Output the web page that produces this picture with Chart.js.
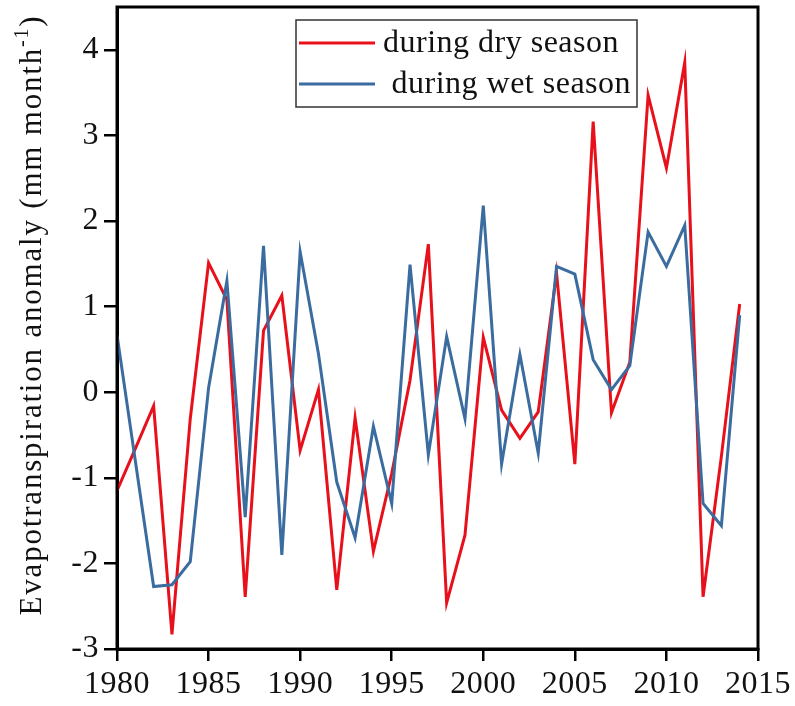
<!DOCTYPE html>
<html>
<head>
<meta charset="utf-8">
<script src="https://cdn.jsdelivr.net/npm/chart.js@4.4.1/dist/chart.umd.min.js"></script>
<style>
  html, body { margin: 0; padding: 0; background: #ffffff; }
  #wrap { width: 795px; height: 706px; }
</style>
</head>
<body>
<div id="wrap"><canvas id="c" width="795" height="706"></canvas></div>
<script>
// Annual evapotranspiration anomaly, 1980-2014 (mm month^-1)
const years = [1980,1981,1982,1983,1984,1985,1986,1987,1988,1989,
               1990,1991,1992,1993,1994,1995,1996,1997,1998,1999,
               2000,2001,2002,2003,2004,2005,2006,2007,2008,2009,
               2010,2011,2012,2013,2014];

const drySeason = [-1.15,-0.66,-0.16,-2.83,-0.31, 1.51, 1.08,-2.39, 0.72, 1.13,
                   -0.68, 0.03,-2.31,-0.30,-1.86,-0.95, 0.14, 1.73,-2.46,-1.67,
                    0.64,-0.21,-0.54,-0.23, 1.39,-0.84, 3.16,-0.24, 0.35, 3.47,
                    2.62, 3.85,-2.39,-0.75, 1.03];

const wetSeason = [ 0.67,-0.80,-2.27,-2.25,-1.98, 0.05, 1.30,-1.46, 1.71,-1.90,
                    1.64, 0.45,-1.05,-1.70,-0.40,-1.30, 1.49,-0.73, 0.65,-0.31,
                    2.18,-0.84, 0.44,-0.71, 1.47, 1.38, 0.38, 0.03, 0.31, 1.87,
                    1.47, 1.95,-1.30,-1.56, 0.90];

const seriesLabels = ['during dry season', ' during wet season'];
const seriesColors = ['#e8101a', '#3b6c9f'];
const yTitle = 'Evapotranspiration anomaly (mm month';
const yTitleSup = '-1';

const SERIF = '"Liberation Serif", "Times New Roman", serif';

const toPoints = vals => years.map((y, i) => ({ x: y, y: vals[i] }));

// Text spacing used by the tick labels
const spacingPlugin = {
  id: 'spacing',
  beforeUpdate(chart) { chart.ctx.letterSpacing = '0.5px'; },
  beforeDraw(chart) { chart.ctx.letterSpacing = '0.5px'; }
};

// Closed frame around the plot area, y-axis title and legend box
const decorPlugin = {
  id: 'decor',
  afterDraw(chart) {
    const ctx = chart.ctx;
    const a = chart.chartArea;

    ctx.save();
    ctx.strokeStyle = '#000';
    ctx.lineWidth = 3;
    ctx.strokeRect(a.left, a.top, a.right - a.left, a.bottom - a.top);
    ctx.restore();

    // y-axis title with superscript
    ctx.save();
    ctx.fillStyle = '#111';
    ctx.letterSpacing = '1.8px';
    ctx.translate(41, 315);
    ctx.rotate(-Math.PI / 2);
    ctx.textBaseline = 'alphabetic';
    ctx.textAlign = 'left';
    ctx.font = '31px ' + SERIF;
    const mainW = ctx.measureText(yTitle).width;
    ctx.font = '20px ' + SERIF;
    const supW = ctx.measureText(yTitleSup).width;
    ctx.font = '31px ' + SERIF;
    const closeW = ctx.measureText(')').width;
    const total = mainW + supW + closeW;
    let x = -total / 2;
    ctx.fillText(yTitle, x, 0);
    x += mainW;
    ctx.font = '20px ' + SERIF;
    ctx.fillText(yTitleSup, x, -13);
    x += supW;
    ctx.font = '31px ' + SERIF;
    ctx.fillText(')', x, 0);
    ctx.restore();

    // legend
    ctx.save();
    ctx.fillStyle = '#fff';
    ctx.fillRect(296, 20, 341, 87);
    ctx.strokeStyle = '#333';
    ctx.lineWidth = 1.5;
    ctx.strokeRect(296, 20, 341, 87);
    const rows = [43, 84];
    chart.data.datasets.forEach((ds, i) => {
      ctx.strokeStyle = ds.borderColor;
      ctx.lineWidth = 3;
      ctx.beginPath();
      ctx.moveTo(299, rows[i]);
      ctx.lineTo(375, rows[i]);
      ctx.stroke();
      ctx.fillStyle = '#111';
      ctx.letterSpacing = '0.5px';
      ctx.font = '32px ' + SERIF;
      ctx.textBaseline = 'middle';
      ctx.textAlign = 'left';
      ctx.fillText(ds.label, 383, rows[i] + 1);
    });
    ctx.restore();
  }
};

new Chart(document.getElementById('c'), {
  type: 'line',
  data: {
    datasets: [
      {
        label: seriesLabels[0],
        data: toPoints(drySeason),
        borderColor: seriesColors[0],
        backgroundColor: seriesColors[0],
        borderWidth: 3,
        pointRadius: 0,
        tension: 0,
        order: 1
      },
      {
        label: seriesLabels[1],
        data: toPoints(wetSeason),
        borderColor: seriesColors[1],
        backgroundColor: seriesColors[1],
        borderWidth: 3,
        pointRadius: 0,
        tension: 0,
        order: 0
      }
    ]
  },
  options: {
    responsive: false,
    animation: false,
    devicePixelRatio: 1,
    layout: { padding: { top: 7, right: 37, left: 0, bottom: 0 } },
    plugins: {
      legend: { display: false },
      tooltip: { enabled: false },
      title: { display: false }
    },
    scales: {
      x: {
        type: 'linear',
        min: 1980,
        max: 2015,
        afterFit(scale) { scale.height = 57; },
        ticks: {
          stepSize: 5,
          color: '#111',
          padding: 4,
          maxRotation: 0,
          font: { family: SERIF, size: 32 },
          callback: v => String(v)
        },
        grid: {
          display: true,
          drawOnChartArea: false,
          drawTicks: true,
          tickLength: 12,
          color: '#000',
          lineWidth: 2.5
        },
        border: { display: true, color: '#000', width: 3 }
      },
      y: {
        min: -3,
        max: 4.5,
        afterFit(scale) {
          scale.width = 117;
          scale.paddingTop = 0;
          scale.paddingBottom = 0;
        },
        ticks: {
          stepSize: 1,
          includeBounds: false,
          color: '#111',
          padding: 5,
          font: { family: SERIF, size: 32 }
        },
        grid: {
          display: true,
          drawOnChartArea: false,
          drawTicks: true,
          tickLength: 13,
          color: '#000',
          lineWidth: 2.5
        },
        border: { display: true, color: '#000', width: 3 }
      }
    }
  },
  plugins: [spacingPlugin, decorPlugin]
});
</script>
</body>
</html>
